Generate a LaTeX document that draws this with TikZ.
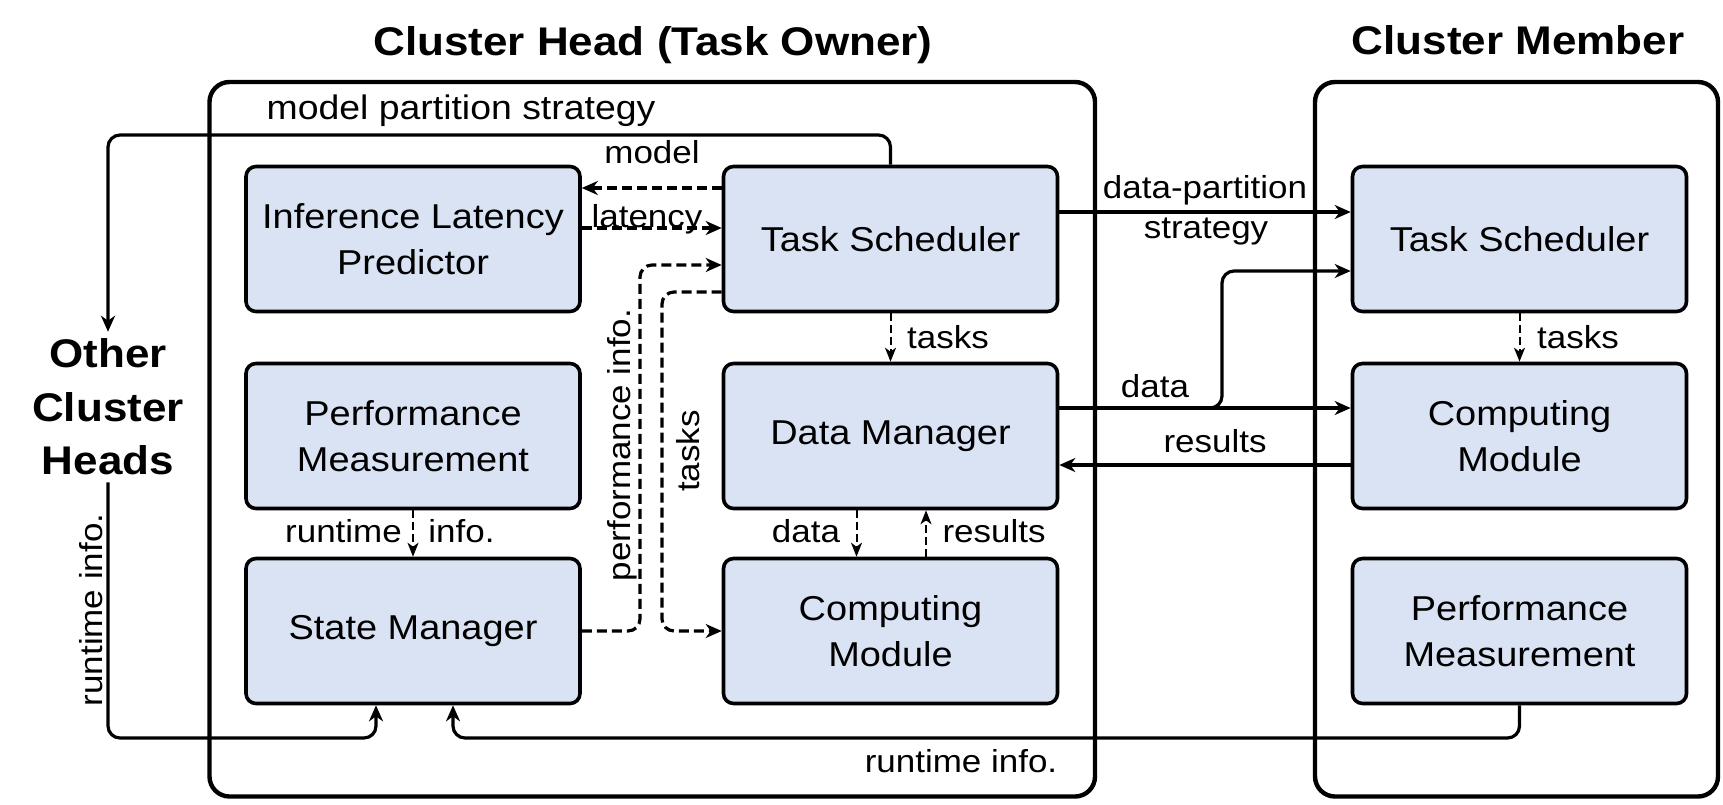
\documentclass[tikz,border=0pt]{standalone}
\usepackage{fontspec}
\setmainfont{Liberation Sans}[FakeStretch=1.1]
\usetikzlibrary{arrows.meta}
\definecolor{boxfill}{RGB}{218,227,243}
\tikzset{
  blk/.style={draw, line width=1.8pt, fill=boxfill, rounded corners=5pt,
    minimum width=167pt, minimum height=72.5pt, align=center, inner sep=0pt,
    font=\fontsize{17.25}{23}\selectfont},
  grp/.style={draw, line width=2.2pt, rounded corners=10pt, inner sep=0pt},
  ttl/.style={font=\fontsize{20}{26.75}\selectfont\bfseries, align=center},
  lbl/.style={font=\fontsize{15.9}{19}\selectfont, inner sep=0pt},
  conn/.style={line width=1.6pt, rounded corners=6pt,
    -{Stealth[length=8pt,width=7pt,inset=2.5pt]}},
  dconn/.style={conn, dash pattern=on 5pt off 2.5pt},
  tconn/.style={line width=1pt, dash pattern=on 4pt off 2pt,
    -{Stealth[length=7pt,width=5.5pt,inset=2pt]}},
}
\begin{document}
\begin{tikzpicture}[x=0.5pt, y=-0.5pt]
\useasboundingbox (0,0) rectangle (1723,804);

% group frames
\node[grp, minimum width=442.75pt, minimum height=357.25pt] (head) at (652.25,439.25) {};
\node[grp, minimum width=201.5pt, minimum height=357.25pt] (member) at (1516.5,439.25) {};

% titles
\node[ttl, anchor=base] (thead) at (653,55) {Cluster Head (Task Owner)};
\node[ttl, anchor=base] (tmem) at (1518,54) {Cluster Member};
\node[ttl] (och) at (108,407) {Other\\Cluster\\Heads};

% cluster head blocks
\node[blk] (ILP) at (413,239) {Inference Latency\\Predictor};
\node[blk] (PM) at (413,436) {Performance\\Measurement};
\node[blk] (SM) at (413,631) {State Manager};
\node[blk] (TS) at (890.5,239) {Task Scheduler};
\node[blk] (DM) at (890.5,436) {Data Manager};
\node[blk] (CM) at (890.5,631) {Computing\\Module};

% cluster member blocks
\node[blk] (mTS) at (1519.5,239) {Task Scheduler};
\node[blk] (mCM) at (1519.5,436) {Computing\\Module};
\node[blk] (mPM) at (1519.5,631) {Performance\\Measurement};

% helper coordinates
\coordinate (yTop) at (0,135);
\coordinate (yModel) at (0,188);
\coordinate (yLat) at (0,228);
\coordinate (yPerf) at (0,265);
\coordinate (yTasks) at (0,292);
\coordinate (yDPS) at (0,212);
\coordinate (yData) at (0,408);
\coordinate (yBranch) at (0,271);
\coordinate (yRes) at (0,465);
\coordinate (yBottom) at (0,738);
\coordinate (xPerf) at (640,0);
\coordinate (xTasks) at (662,0);
\coordinate (xBranch) at (1222,0);
\coordinate (xOCH) at (376,0);
\coordinate (xMPM) at (453,0);
\coordinate (xDataDn) at (856.5,0);
\coordinate (xResUp) at (926,0);
\coordinate (brStart) at (1203,408);

% connectors
\draw[conn] (TS.north) |- (yTop -| och) -- (och.north);
\draw[dconn] (TS.west |- yModel) -- (ILP.east |- yModel);
\draw[dconn] (ILP.east |- yLat) -- (TS.west |- yLat);
\draw[dconn] (SM.east) -| (xPerf |- yPerf) -- (TS.west |- yPerf);
\draw[dconn] (TS.west |- yTasks) -| (xTasks |- CM.west) -- (CM.west);
\draw[tconn] (TS.south) -- (DM.north);
\draw[tconn] (mTS.south) -- (mCM.north);
\draw[conn] (TS.east |- yDPS) -- (mTS.west |- yDPS);
\draw[conn] (DM.east |- yData) -- (mCM.west |- yData);
\draw[conn] (brStart) -| (xBranch |- yBranch) -- (mTS.west |- yBranch);
\draw[conn] (mCM.west |- yRes) -- (DM.east |- yRes);
\draw[tconn] (DM.south -| xDataDn) -- (CM.north -| xDataDn);
\draw[tconn] (CM.north -| xResUp) -- (DM.south -| xResUp);
\draw[tconn] (PM.south) -- (SM.north);
\draw[conn] (och.south) |- (xOCH |- yBottom) -- (SM.south -| xOCH);
\draw[conn] (mPM.south) |- (xMPM |- yBottom) -- (SM.south -| xMPM);

% labels
\node[lbl, anchor=base, font=\fontsize{17}{20}\selectfont] (lmps) at (461,119) {model partition strategy};
\node[lbl, anchor=base] (lmodel) at (652,163) {model};
\node[lbl, anchor=base] (llat) at (647,227) {latency};
\node[lbl, rotate=90] (lperf) at (622,445) {performance info.};
\node[lbl, rotate=90] (ltasks) at (688,451) {tasks};
\node[lbl, anchor=base] (ltasks1) at (948,348) {tasks};
\node[lbl, anchor=base] (ltasks2) at (1578,348) {tasks};
\node[lbl, anchor=base] (ldp) at (1205,198) {data-partition};
\node[lbl, anchor=base] (lstrat) at (1206,238) {strategy};
\node[lbl, anchor=base] (ldata1) at (1155,397) {data};
\node[lbl, anchor=base] (lres1) at (1215,452) {results};
\node[lbl, anchor=base] (ldata2) at (806,542) {data};
\node[lbl, anchor=base] (lres2) at (994,542) {results};
\node[lbl, anchor=base] (lrt) at (343.5,542) {runtime};
\node[lbl, anchor=base] (linfo) at (461.5,542) {info.};
\node[lbl, anchor=base] (lrt2) at (961,772) {runtime info.};
\node[lbl, rotate=90] (lrt3) at (91,610) {runtime info.};
\end{tikzpicture}
\end{document}
